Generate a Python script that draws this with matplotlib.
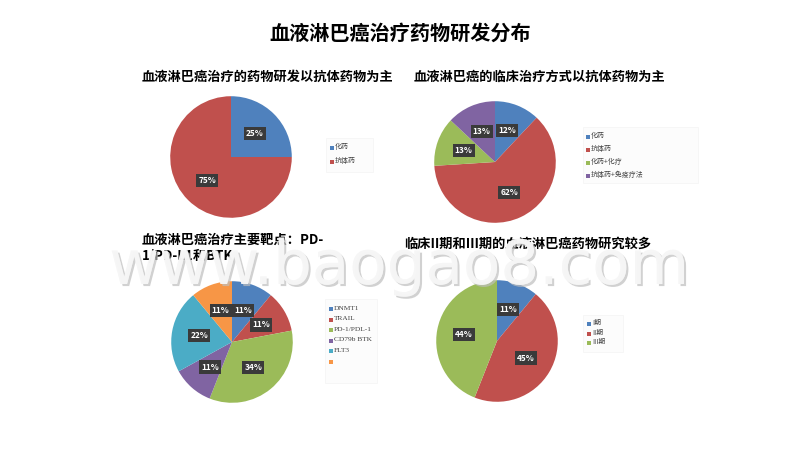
import matplotlib
matplotlib.use("Agg")
import matplotlib.pyplot as plt
from matplotlib.patches import Rectangle
import matplotlib.patheffects as pe

plt.rcParams['font.family'] = ['Noto Sans CJK SC', 'DejaVu Sans']

main_title = "血液淋巴癌治疗药物研发分布"

titles = [
    "血液淋巴癌治疗的药物研发以抗体药物为主",
    "血液淋巴癌的临床治疗方式以抗体药物为主",
    "血液淋巴癌治疗主要靶点：PD-\n1/PD-L1和BTK",
    "临床II期和III期的血液淋巴癌药物研究较多",
]

labels1 = ["化药", "抗体药"]
values1 = [25, 75]

labels2 = ["化药", "抗体药", "化药+化疗", "抗体药+免疫疗法"]
values2 = [12, 62, 13, 13]

labels3 = ["DNMT1", "TRAIL", "PD-1/PDL-1", "CD79b BTK", "FLT3", ""]
values3 = [11, 11, 34, 11, 22, 11]

labels4 = ["I期", "II期", "III期"]
values4 = [11, 45, 44]

colors = ["#4F81BD", "#C0504D", "#9BBB59", "#8064A2", "#4BACC6", "#F79646"]

W, H = 800, 450
fig = plt.figure(figsize=(8, 4.5), dpi=100)
fig.patch.set_facecolor("white")


def fx(x):
    return x / W


def fy(y):
    return 1 - y / H


def pie_at(cx, cy, r, values):
    ax = fig.add_axes([fx(cx - r), fy(cy + r), 2 * r / W, 2 * r / H])
    wedges, texts, autotexts = ax.pie(
        values, colors=colors[:len(values)], startangle=90, counterclock=False,
        autopct="%d%%", pctdistance=0.55, radius=1,
        wedgeprops=dict(linewidth=0),
        textprops=dict(color="white", fontsize=6, fontweight="bold"))
    for t in autotexts:
        t.set_bbox(dict(boxstyle="square,pad=0.25", fc="#3A3A3A", ec="none"))
    ax.set_xlim(-1.02, 1.02)
    ax.set_ylim(-1.02, 1.02)
    ax.set_aspect("equal")
    ax.axis("off")
    return ax


def legend_at(x, y0, dy, labels, box, family=None, fsize=5):
    bx, by, bw, bh = box
    fig.patches.append(Rectangle((fx(bx), fy(by + bh)), bw / W, bh / H,
                                 transform=fig.transFigure, fc="#FCFCFC",
                                 ec="#F4F4F4", lw=0.5, zorder=1))
    for i, lab in enumerate(labels):
        y = y0 + i * dy
        fig.patches.append(Rectangle((fx(x - 2), fy(y + 2)), 4 / W, 4 / H,
                                     transform=fig.transFigure, fc=colors[i],
                                     ec="none", zorder=2))
        kw = dict(fontsize=fsize, color="#404040", va="center", ha="left", zorder=3)
        if family:
            kw["family"] = family
        fig.text(fx(x + 3), fy(y - 1), lab, **kw)


# Pies
pie_at(231, 157, 62, values1)
pie_at(495, 162, 62, values2)
pie_at(232, 342, 62, values3)
pie_at(497, 341, 62, values4)

# Titles
fig.text(0.5, fy(33), main_title, ha="center", va="center", fontsize=14.5,
         fontweight="bold", color="black")
fig.text(fx(267), fy(77), titles[0], ha="center", va="center", fontsize=9.5,
         fontweight="bold")
fig.text(fx(539), fy(77), titles[1], ha="center", va="center", fontsize=9.5,
         fontweight="bold")
fig.text(fx(142), fy(248), titles[2], ha="left", va="center", fontsize=9.5,
         fontweight="bold", linespacing=1.15)
fig.text(fx(528), fy(244), titles[3], ha="center", va="center", fontsize=9.5,
         fontweight="bold")

# Legends
legend_at(332, 148, 14, labels1, (326, 138, 47, 34), fsize=5)
legend_at(588, 137, 13, labels2, (583, 127, 115, 56), fsize=5)
legend_at(331, 309, 10.6, labels3, (325, 299, 52, 84),
          family=["Liberation Serif", "DejaVu Serif"], fsize=5.3)
legend_at(589, 324, 9.7, labels4, (583, 315, 40, 37), fsize=5)

# Watermark
fig.text(fx(399), fy(284), "www.baogao8.com", ha="center", va="baseline",
         fontsize=44, color="#F6F6F6", alpha=0.85,
         family="DejaVu Sans", zorder=10,
         path_effects=[pe.withSimplePatchShadow(offset=(1.5, -1.5),
                                                shadow_rgbFace="#BEBEBE",
                                                alpha=0.7),
                       pe.Normal()])

fig.savefig("out.png", dpi=100, facecolor="white")
